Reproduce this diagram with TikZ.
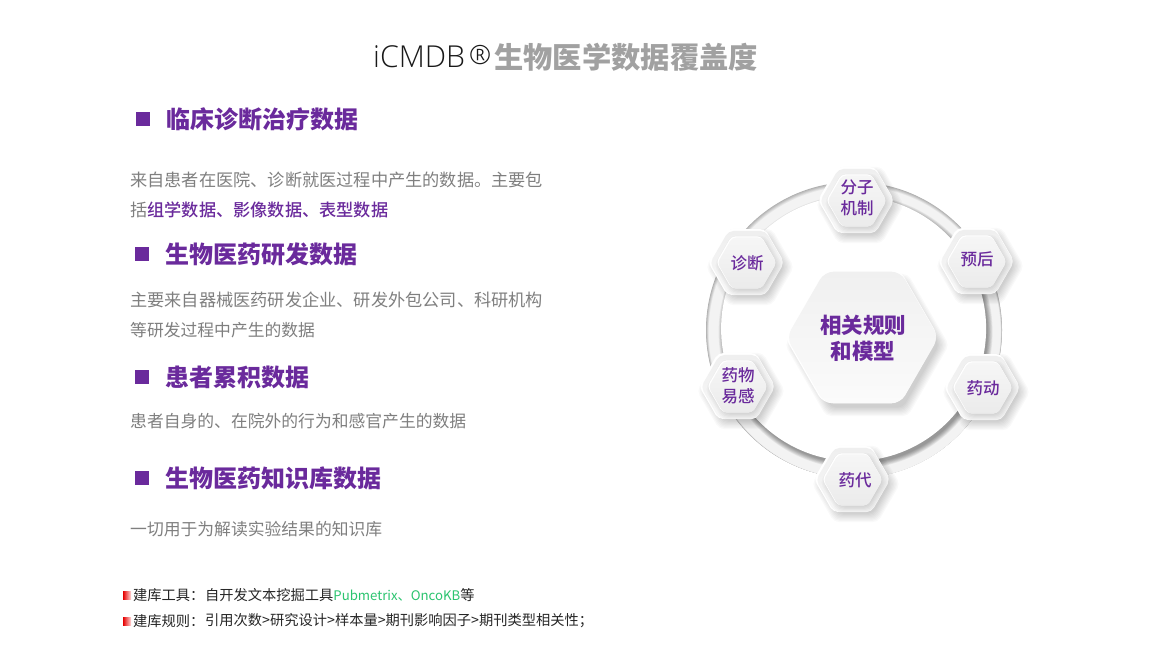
\documentclass[tikz,border=0pt]{standalone}
\usepackage{fontspec}
\setmainfont{Noto Sans CJK SC}
\newfontfamily\medfont{Noto Sans CJK SC Medium}
\newfontfamily\latinlight{Open Sans Light}
\definecolor{pur}{HTML}{6A2A9C}
\definecolor{bodyg}{HTML}{7F7F7F}
\definecolor{grn}{HTML}{2BC46F}
\definecolor{ink}{HTML}{262626}
\definecolor{gED}{HTML}{EFEFEF}
\definecolor{gF6}{HTML}{F7F7F7}
\definecolor{gF5}{HTML}{F6F6F6}
\definecolor{gE6}{HTML}{EBEBEB}
\definecolor{gF3}{HTML}{F3F3F3}
\definecolor{gEF}{HTML}{F0F0F0}
\definecolor{gFB}{HTML}{FBFBFB}
\newcommand{\hexp}[1]{(0:#1) -- (60:#1) -- (120:#1) -- (180:#1) -- (240:#1) -- (300:#1) -- cycle}
\newcommand{\softshadow}[5]{% x y r dx dy
  \foreach \k in {0,1,...,7}{
    \fill[black,opacity=.024,rounded corners=5pt,shift={(#1+#4,#2+#5)}] \hexp{#3+7-\k*1.4};
  }}
\newcommand{\smallhex}[2]{%
  \softshadow{#1}{#2}{37}{3}{4}
  \fill[white,rounded corners=5pt,shift={(#1-1,#2-1)}] \hexp{38};
  \shade[top color=gED,bottom color=gF6,rounded corners=5pt,shift={(#1,#2)}] \hexp{37};
  \softshadow{#1}{#2}{27.5}{1.5}{2.5}
  \fill[white,rounded corners=4pt,shift={(#1-.6,#2-.6)}] \hexp{30};
  \shade[top color=gF5,bottom color=gE6,rounded corners=4pt,shift={(#1,#2)}] \hexp{29.5};
}
\tikzset{
  head/.style={anchor=west,inner sep=0pt,font=\bfseries\fontsize{24}{24}\selectfont,text=pur},
  txt/.style={anchor=west,inner sep=0pt,font=\fontsize{17.2}{17.2}\selectfont,text=bodyg},
  txtb/.style={anchor=west,inner sep=0pt,font=\fontsize{16.8}{16.8}\selectfont,text=bodyg},
  small/.style={anchor=west,inner sep=0pt,font=\fontsize{14.25}{14.25}\selectfont,text=ink},
  hexlabel/.style={align=center,inner sep=0pt,font=\medfont\fontsize{16.5}{20.5}\selectfont,text=pur},
  biglabel/.style={align=center,inner sep=0pt,font=\bfseries\fontsize{21.5}{26}\selectfont,text=pur},
  sq/.style={fill=pur,inner sep=0pt,minimum size=14pt},
  redmark/.style={inner sep=0pt,minimum size=8pt,left color=red!90!black,right color=red!15}
}
\begin{document}
\begin{tikzpicture}[x=1pt,y=-1pt]
\useasboundingbox[fill=white] (0,0) rectangle (1150,659);
% title
\node[anchor=west,inner sep=0pt,text=black!90,font=\latinlight\fontsize{30.2}{30.2}\selectfont] (t1) at (373,57) {iCMDB};
\node[anchor=west,inner sep=0pt,text=black!90,font=\latinlight\fontsize{26.5}{26.5}\selectfont] (t2) at (469,55) {®};
\node[anchor=west,inner sep=0pt,text=black!37,font=\bfseries\fontsize{29.3}{29.3}\selectfont] (t3) at (494,57) {生物医学数据覆盖度};
% headings
\node[sq] (s1) at (143,119) {}; \node[head] (h1) at (166,119) {临床诊断治疗数据};
\node[sq] (s2) at (142,254) {}; \node[head] (h2) at (165,254) {生物医药研发数据};
\node[sq] (s3) at (142,377) {}; \node[head] (h3) at (165,377) {患者累积数据};
\node[sq] (s4) at (142,478) {}; \node[head] (h4) at (165,478) {生物医药知识库数据};
% body
\node[txt] (b1) at (130,180) {来自患者在医院、诊断就医过程中产生的数据。主要包};
\node[txt] (b2) at (130,210) {括\textcolor{pur}{\medfont 组学数据、影像数据、表型数据}};
\node[txt] (b3) at (130,300) {主要来自器械医药研发企业、研发外包公司、科研机构};
\node[txtb] (b4) at (130,330) {等研发过程中产生的数据};
\node[txtb] (b5) at (130,421) {患者自身的、在院外的行为和感官产生的数据};
\node[txtb] (b6) at (130,529) {一切用于为解读实验结果的知识库};
% bottom
\node[redmark] (r1) at (127,595) {};
\node[redmark] (r2) at (127,621) {};
\node[small] (n1) at (133,595) {建库工具：};
\node[small] (n2) at (205,595) {自开发文本挖掘工具\textcolor{grn}{\fontsize{13.2}{13.2}\selectfont Pubmetrix、OncoKB}等};
\node[small] (n3) at (133,621) {建库规则：};
\node[small] (n4) at (205,621) {引用次数>研究设计>样本量>期刊影响因子>期刊类型相关性；};
% ring
\foreach \k in {0,1,...,7}{
  \pgfmathsetmacro\mixv{int(28-\k*4)}
  \fill[black!\mixv!gF3] (854+\k*.1,330+\k*.3) circle (148-\k*.3);
}
\fill[gF3] (854.8,332.4) circle (145.6);
\foreach \k in {0,1,...,7}{ \fill[black,opacity=.055] (855.6,331.8) circle (137-\k*0.7); }
\fill[white] (853.6,328.6) circle (132.5);
% centre
\softshadow{862}{337}{75}{5}{8}
\fill[white,rounded corners=9pt,shift={(861.5,336.5)}] \hexp{77};
\shade[top color=gEF,bottom color=gFB,rounded corners=9pt,shift={(862.5,337.5)}] \hexp{76};
% small hexes
\smallhex{857}{201}
\smallhex{747}{263}
\smallhex{977}{262}
\smallhex{983}{388}
\smallhex{853}{480}
\smallhex{738}{387}
\node[biglabel] (c0) at (863,338) {相关规则\\和模型};
\node[hexlabel] (c1) at (857,198) {分子\\机制};
\node[hexlabel] (c2) at (747,263) {诊断};
\node[hexlabel] (c3) at (977,259) {预后};
\node[hexlabel] (c4) at (983,388) {药动};
\node[hexlabel] (c5) at (855,480) {药代};
\node[hexlabel] (c6) at (738,386) {药物\\易感};
\end{tikzpicture}
\end{document}
